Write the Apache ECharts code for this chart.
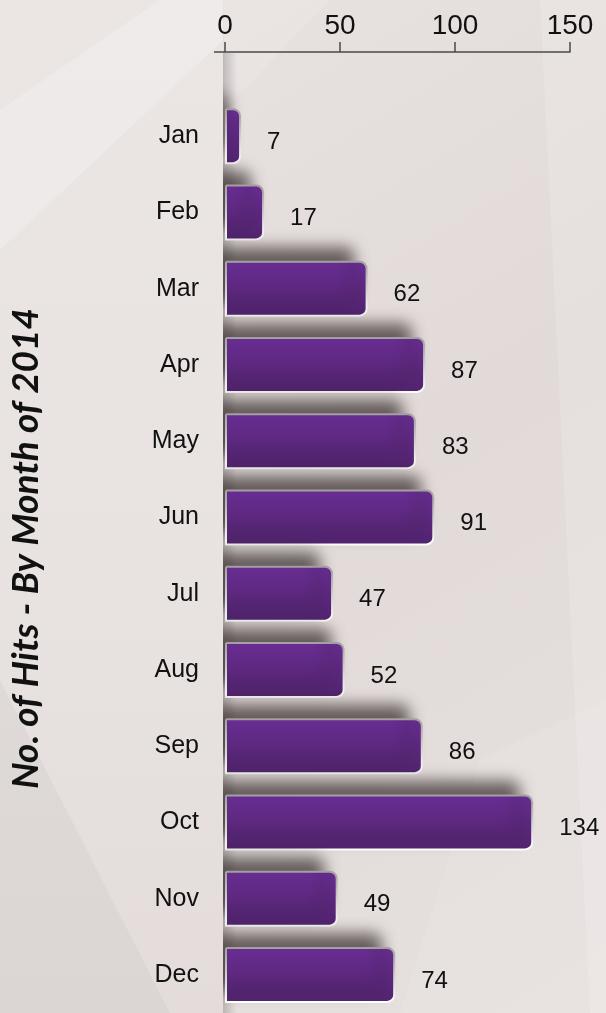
<!DOCTYPE html>
<html>
<head>
<meta charset="utf-8">
<script src="https://cdn.jsdelivr.net/npm/echarts@6/dist/echarts.min.js"></script>
<style>
  html, body { margin: 0; padding: 0; }
  #chart { width: 606px; height: 1013px; }
</style>
</head>
<body>
<div id="chart"></div>
<script>
const months = ['Jan', 'Feb', 'Mar', 'Apr', 'May', 'Jun', 'Jul', 'Aug', 'Sep', 'Oct', 'Nov', 'Dec']
const hits = [7, 17, 62, 87, 83, 91, 47, 52, 86, 134, 49, 74]
const axisMin = 0
const axisMax = 150
const axisStep = 50
const titleText = 'No. of Hits - By Month of 2014'

const chart = echarts.init(document.getElementById('chart'))

chart.setOption({
  animation: false,
  backgroundColor: {
    type: 'linear', x: 0, y: 0, x2: 1, y2: 1,
    colorStops: [
      { offset: 0, color: '#e9e3e1' },
      { offset: 0.5, color: '#e1dad8' },
      { offset: 1, color: '#e6e0de' }
    ]
  },
  graphic: [
    // light rays in the backdrop
    {
      type: 'polygon', z: -10,
      shape: { points: [[224, 0], [330, 0], [224, 110]] },
      style: { fill: 'rgba(255,255,255,0.12)' }
    },
    {
      type: 'polygon', z: -10,
      shape: { points: [[540, 0], [606, 0], [606, 1013], [590, 1013]] },
      style: { fill: 'rgba(255,255,255,0.16)' }
    },
    {
      type: 'polygon', z: -10,
      shape: { points: [[400, 1013], [480, 760], [606, 700], [606, 1013]] },
      style: { fill: 'rgba(255,255,255,0.10)' }
    },
    // left panel, hides the bar shadows that spill past the axis
    {
      type: 'rect', z: 3,
      shape: { x: 0, y: 0, width: 223, height: 1013 },
      style: {
        fill: {
          type: 'linear', x: 0, y: 0, x2: 0, y2: 1,
          colorStops: [
            { offset: 0, color: '#ebe6e4' },
            { offset: 0.6, color: '#e8e2e0' },
            { offset: 1, color: '#e3dcda' }
          ]
        }
      }
    },
    {
      type: 'polygon', z: 3,
      shape: { points: [[0, 110], [160, 0], [223, 0], [223, 40], [0, 250]] },
      style: { fill: 'rgba(255,255,255,0.22)' }
    },
    {
      type: 'polygon', z: 3,
      shape: { points: [[0, 680], [170, 1013], [0, 1013]] },
      style: { fill: 'rgba(0,0,0,0.03)' }
    },
    {
      type: 'rect', z: 1,
      shape: { x: 223, y: 53, width: 14, height: 960 },
      style: {
        fill: {
          type: 'linear', x: 0, y: 0, x2: 1, y2: 0,
          colorStops: [
            { offset: 0, color: 'rgba(0,0,0,0.18)' },
            { offset: 1, color: 'rgba(0,0,0,0)' }
          ]
        }
      }
    },
    {
      type: 'line', z: 6,
      shape: { x1: 214, y1: 52, x2: 225, y2: 52 },
      style: { stroke: '#4a4a4a', lineWidth: 1.5 }
    }
  ],
  grid: {
    left: 223,
    right: 36,
    top: 98,
    height: 928
  },
  xAxis: {
    type: 'value',
    position: 'top',
    offset: 46,
    z: 6,
    min: axisMin,
    max: axisMax,
    interval: axisStep,
    axisLine: { show: true, lineStyle: { color: '#4a4a4a', width: 1.5 } },
    axisTick: { show: true, length: 10, lineStyle: { color: '#4a4a4a', width: 1.5 } },
    axisLabel: {
      color: '#111',
      fontSize: 28,
      fontFamily: 'Liberation Sans',
      margin: 12
    },
    splitLine: { show: false }
  },
  yAxis: {
    type: 'category',
    data: months,
    inverse: true,
    z: 6,
    name: titleText,
    nameLocation: 'middle',
    nameRotate: 90,
    nameGap: 180,
    nameTextStyle: {
      fontFamily: 'Lato',
      fontStyle: 'italic',
      fontWeight: 'bold',
      fontSize: 37,
      color: '#111',
      padding: [0, 0, 0, 14]
    },
    axisLine: { show: false },
    axisTick: { show: false },
    axisLabel: {
      color: '#111',
      fontSize: 25,
      fontFamily: 'Liberation Sans',
      margin: 26,
      padding: [7, 0, 0, 0]
    }
  },
  series: [{
    type: 'bar',
    data: hits,
    barWidth: 56,
    z: 2,
    itemStyle: {
      color: {
        type: 'linear', x: 0, y: 0, x2: 0, y2: 1,
        colorStops: [
          { offset: 0, color: '#692d93' },
          { offset: 1, color: '#51236e' }
        ]
      },
      borderColor: {
        type: 'linear', x: 0, y: 0, x2: 0, y2: 1,
        colorStops: [
          { offset: 0, color: '#a39da0' },
          { offset: 1, color: '#ffffff' }
        ]
      },
      borderWidth: 2,
      borderRadius: [0, 7, 7, 0],
      shadowColor: 'rgba(30,20,20,0.65)',
      shadowBlur: 15,
      shadowOffsetX: -14,
      shadowOffsetY: -13
    },
    label: {
      show: true,
      position: 'right',
      distance: 26,
      offset: [0, 6],
      color: '#111',
      fontSize: 24,
      fontFamily: 'Liberation Sans'
    }
  }]
})
</script>
</body>
</html>
